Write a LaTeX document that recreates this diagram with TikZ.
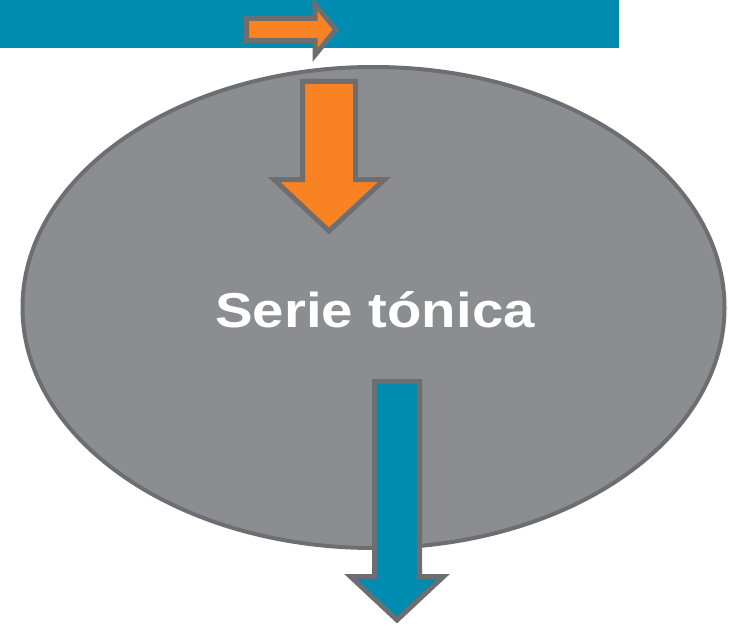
\documentclass[tikz,border=0pt]{standalone}
\usepackage{graphicx}
\usepackage{fontspec}
\setmainfont{Liberation Sans}
\definecolor{teal1}{HTML}{008BB0}
\definecolor{orange1}{HTML}{F98222}
\definecolor{grayfill}{HTML}{8C8D91}
\definecolor{grayline}{HTML}{6D6E71}
\tikzset{
  arrowshape/.style={draw=grayline, line width=5pt, line join=miter},
}
\begin{document}
\begin{tikzpicture}[x=1pt,y=-1pt]
\useasboundingbox (0,0) rectangle (739,626);
% top bar
\fill[teal1] (0,0) rectangle (619,48);
% small right arrow
\draw[arrowshape, fill=orange1] (246.5,18.5) -- (315,18.5) -- (315,4) -- (336,29.5) -- (315,55) -- (315,40.5) -- (246.5,40.5) -- cycle;
% ellipse
\coordinate (ell) at (373.5,307.5);
\draw[grayline, fill=grayfill, line width=4pt] (ell) ellipse [x radius=351, y radius=240.5];
% orange down arrow
\draw[arrowshape, fill=orange1] (302.5,81.5) -- (355.5,81.5) -- (355.5,179.5) -- (384.5,179.5) -- (329,231) -- (274,179.5) -- (302.5,179.5) -- cycle;
% text
\node[text=white, font=\bfseries\fontsize{49}{56}\selectfont, anchor=base, inner sep=0pt] (lbl) at (375,327) {\scalebox{1.15}[1]{Serie tónica}};
% teal down arrow
\draw[arrowshape, fill=teal1] (374.5,381.5) -- (419.5,381.5) -- (419.5,576.5) -- (443.5,576.5) -- (397,620) -- (350.5,576.5) -- (374.5,576.5) -- cycle;
\end{tikzpicture}
\end{document}
